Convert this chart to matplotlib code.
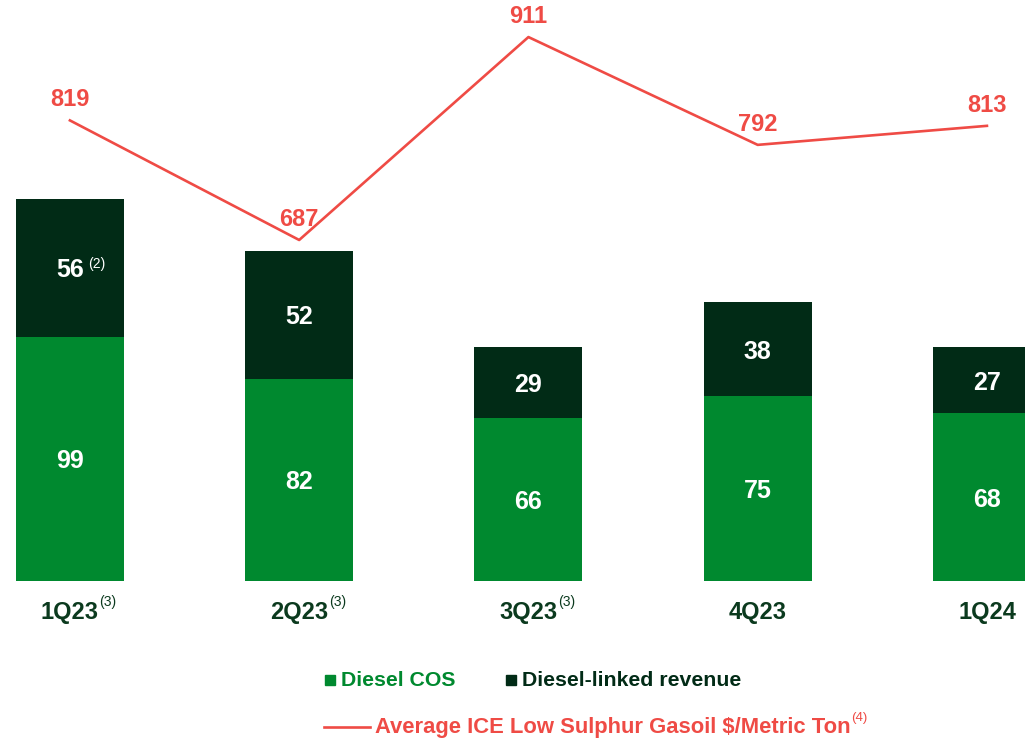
import matplotlib
matplotlib.use("Agg")
import matplotlib.pyplot as plt
from matplotlib.patches import Rectangle
from matplotlib.lines import Line2D

FONT = "Liberation Sans"
plt.rcParams['font.family'] = FONT

# data
quarters = ["1Q23", "2Q23", "3Q23", "4Q23", "1Q24"]
quarter_notes = ["(3)", "(3)", "(3)", "", ""]
diesel_cos = [99, 82, 66, 75, 68]
diesel_linked = [56, 52, 29, 38, 27]
gasoil_price = [819, 687, 911, 792, 813]

GREEN = "#00892F"
DARK = "#012B16"
RED = "#EF4B45"
TXT = "#0B3A1E"

fig = plt.figure(figsize=(10.25, 7.42), dpi=100)
ax = fig.add_axes([0, 161 / 742, 1, 581 / 742])
ax2 = ax.twinx()

x = list(range(len(quarters)))
w = 0.471
ax.bar(x, diesel_cos, width=w, color=GREEN, zorder=2)
ax.bar(x, diesel_linked, width=w, bottom=diesel_cos, color=DARK, zorder=2)
ax.set_xlim(-0.305, 4.166)
ax.set_ylim(0, 235.7)

# segment labels
for i in x:
    ax.text(i, diesel_cos[i] / 2, str(diesel_cos[i]), ha="center", va="center_baseline",
            color="white", fontsize=18, family=FONT, weight="bold")
    t = ax.text(i, diesel_cos[i] + diesel_linked[i] / 2, str(diesel_linked[i]),
                ha="center", va="center_baseline", color="white", fontsize=18,
                family=FONT, weight="bold")
    if i == 0:
        ax.annotate("(2)", xy=(1, 0.75), xycoords=t, xytext=(3, 0), textcoords="offset points",
                    ha="left", va="center", color="white", fontsize=10, family=FONT)

# category labels under the bars
for i in x:
    t = ax.text(i, -0.035, quarters[i], transform=ax.get_xaxis_transform(),
                ha="center", va="top", color=TXT, fontsize=17, family=FONT, weight="bold")
    if quarter_notes[i]:
        ax.annotate(quarter_notes[i], xy=(1, 0.95), xycoords=t, xytext=(0.5, 0),
                    textcoords="offset points", ha="left", va="center",
                    color=TXT, fontsize=10, family=FONT)

# gasoil price line
ax2.plot(x, gasoil_price, color=RED, linewidth=1.9, zorder=3)
ax2.set_ylim(310.6, 951.9)
for i in x:
    ax2.annotate(str(gasoil_price[i]), xy=(i, gasoil_price[i]), xytext=(0, 15),
                 textcoords="offset points", ha="center", va="center",
                 color=RED, fontsize=17, family=FONT, weight="bold")

for a in (ax, ax2):
    a.axis("off")

# legend
fig.patches.append(Rectangle((325 / 1025, 1 - 685 / 742), 10 / 1025, 10 / 742,
                             transform=fig.transFigure, color=GREEN))
fig.text(341 / 1025, 1 - 680 / 742, "Diesel COS", color=GREEN, fontsize=15.3,
         family=FONT, weight="bold", ha="left", va="center")
fig.patches.append(Rectangle((506 / 1025, 1 - 685 / 742), 10 / 1025, 10 / 742,
                             transform=fig.transFigure, color=DARK))
fig.text(522 / 1025, 1 - 680 / 742, "Diesel-linked revenue", color=DARK, fontsize=15.3,
         family=FONT, weight="bold", ha="left", va="center")
fig.lines.append(Line2D([324 / 1025, 370 / 1025], [1 - 727 / 742, 1 - 727 / 742],
                        transform=fig.transFigure, color=RED, linewidth=1.9))
lt = fig.text(375 / 1025, 1 - 727 / 742, "Average ICE Low Sulphur Gasoil $/Metric Ton",
              color=RED, fontsize=15.8, family=FONT, weight="bold", ha="left", va="center")
ax.annotate("(4)", xy=(1, 0.95), xycoords=lt, xytext=(0.5, 0), textcoords="offset points",
            ha="left", va="center", color=RED, fontsize=9.5, family=FONT,
            annotation_clip=False)

fig.savefig("out.png", dpi=100, facecolor="white")
